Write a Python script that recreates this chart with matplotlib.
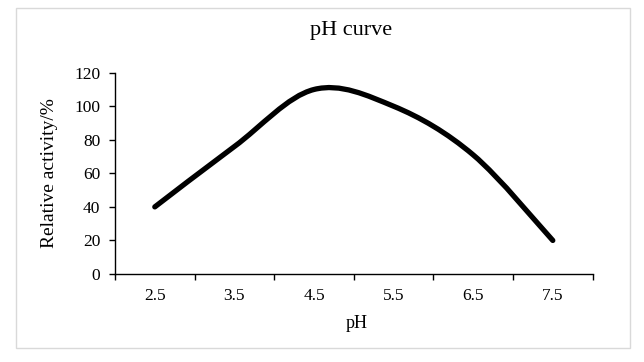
import matplotlib
matplotlib.use("Agg")
import matplotlib.pyplot as plt
from matplotlib.path import Path
from matplotlib.patches import PathPatch, Rectangle

# Data
categories = ["2.5", "3.5", "4.5", "5.5", "6.5", "7.5"]
activity = [40, 76, 110, 100, 71, 20]
y_ticks = [0, 20, 40, 60, 80, 100, 120]
title = "pH curve"
x_label = "pH"
y_label = "Relative activity/%"

plt.rcParams["font.family"] = ["Liberation Serif", "DejaVu Serif"]

W, H = 644, 362
fig = plt.figure(figsize=(W / 100, H / 100), dpi=100)
fig.patch.set_facecolor("white")

# outer chart border
fig.patches.append(Rectangle((16 / W, 1 - 348 / H), (630 - 16) / W, (348 - 7.5) / H,
                             transform=fig.transFigure, fill=False,
                             edgecolor="#d9d9d9", linewidth=1.0))

left, right = 115 / W, 592.6 / W
bottom, top = 1 - 274 / H, 1 - 72.7 / H
ax = fig.add_axes([left, bottom, right - left, top - bottom])

n = len(categories)
xs = [i + 0.5 for i in range(n)]
ys = activity

# Excel-style smoothed line (Catmull-Rom as cubic Bezier segments)
verts = [(xs[0], ys[0])]
codes = [Path.MOVETO]
for i in range(n - 1):
    p0 = (xs[i - 1], ys[i - 1]) if i > 0 else (xs[i], ys[i])
    p1 = (xs[i], ys[i])
    p2 = (xs[i + 1], ys[i + 1])
    p3 = (xs[i + 2], ys[i + 2]) if i + 2 < n else (xs[i + 1], ys[i + 1])
    c1 = (p1[0] + (p2[0] - p0[0]) / 6, p1[1] + (p2[1] - p0[1]) / 6)
    c2 = (p2[0] - (p3[0] - p1[0]) / 6, p2[1] - (p3[1] - p1[1]) / 6)
    verts += [c1, c2, p2]
    codes += [Path.CURVE4] * 3
patch = PathPatch(Path(verts, codes), facecolor="none", edgecolor="black",
                  linewidth=3.8, capstyle="round", joinstyle="round")
ax.add_patch(patch)

ax.set_xlim(0, n)
ax.set_ylim(0, 120)
ax.set_xticks(range(n + 1))
ax.set_xticklabels([])
ax.set_xticks(xs, minor=True)
ax.set_xticklabels(categories, minor=True)
ax.tick_params(axis="x", which="minor", length=0, labelsize=12.5, pad=10)
ax.tick_params(axis="x", which="major", length=4.5, width=1, direction="out", color="black")
ax.set_yticks(y_ticks)
ax.tick_params(axis="y", length=4.5, width=1, direction="out", labelsize=12.5, pad=6)

for s in ["top", "right"]:
    ax.spines[s].set_visible(False)
for s in ["left", "bottom"]:
    ax.spines[s].set_linewidth(1.0)
    ax.spines[s].set_color("black")

fig.text(351 / W, 1 - 31 / H, title, ha="center", va="center", fontsize=16)
fig.text(357 / W, 1 - 323 / H, x_label, ha="center", va="center", fontsize=13)
fig.text(50 / W, 1 - 173 / H, y_label, ha="center", va="center", rotation=90, fontsize=14)

fig.savefig("out.png", dpi=100, facecolor="white")
